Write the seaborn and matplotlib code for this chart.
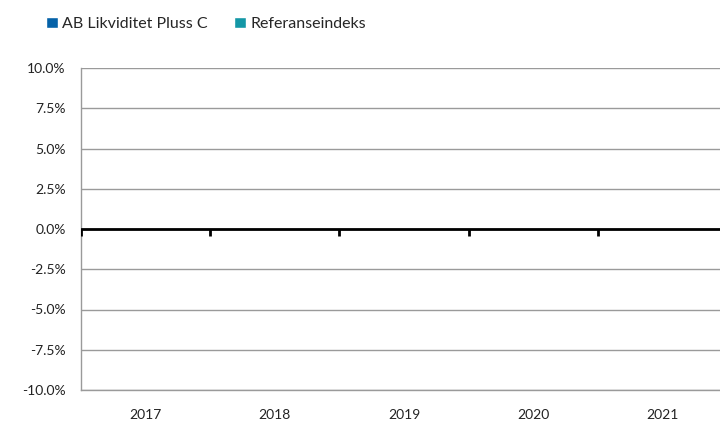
import pandas as pd
import numpy as np
import matplotlib.pyplot as plt
import seaborn as sns
from matplotlib.ticker import FuncFormatter

years = ["2017", "2018", "2019", "2020", "2021"]
fund_returns = [0.0, 0.0, 0.0, 0.0, 0.0]
index_returns = [0.0, 0.0, 0.0, 0.0, 0.0]
series_names = ["AB Likviditet Pluss C", "Referanseindeks"]
y_ticks = [-10.0, -7.5, -5.0, -2.5, 0.0, 2.5, 5.0, 7.5, 10.0]

colors = {"AB Likviditet Pluss C": "#0562A8", "Referanseindeks": "#1497A6"}

df = pd.DataFrame({
    "Year": years * 2,
    "Return": fund_returns + index_returns,
    "Series": [series_names[0]] * len(years) + [series_names[1]] * len(years),
})

sns.set_style("white")
plt.rcParams["font.family"] = ["Lato", "DejaVu Sans"]

fig = plt.figure(figsize=(7.2, 4.22), dpi=100)
ax = fig.add_axes([81 / 720, 1 - 390 / 422, 646 / 720, 322 / 422])

sns.barplot(data=df, x="Year", y="Return", hue="Series", palette=colors,
            order=years, hue_order=series_names, ax=ax, legend=False)

ax.set_xlim(-0.5, len(years) - 0.5)
ax.set_ylim(-10, 10)
ax.set_yticks(y_ticks)
ax.yaxis.set_major_formatter(FuncFormatter(lambda v, p: f"{v:.1f}%"))
ax.grid(axis="y", color="#9a9a9a", linewidth=1)
ax.set_axisbelow(True)

for s in ["top", "right"]:
    ax.spines[s].set_visible(False)
ax.spines["left"].set_color("#9a9a9a")
ax.spines["bottom"].set_color("#9a9a9a")
ax.spines["left"].set_linewidth(1)
ax.spines["bottom"].set_linewidth(1)

ax.tick_params(axis="y", length=7, color="#9a9a9a", pad=4, labelsize=10, labelcolor="#222222")
ax.tick_params(axis="x", length=0, pad=14, labelsize=10, labelcolor="#222222")
ax.set_xlabel("")
ax.set_ylabel("")

# zero line with small ticks at category boundaries
ax.axhline(0, color="black", linewidth=2, zorder=3)
bounds = np.arange(len(years)) - 0.5
ax.vlines(bounds, -0.45, 0, color="black", linewidth=2, zorder=3)

handles = [plt.Rectangle((0, 0), 1, 1, fc=colors[n]) for n in series_names]
fig.legend(handles, series_names, loc="center left", bbox_to_anchor=(0.064, 0.943),
           ncol=2, frameon=False, fontsize=11.5, handlelength=0.72, handleheight=0.72,
           handletextpad=0.3, columnspacing=1.65, borderaxespad=0, borderpad=0)

fig.savefig("out.png", dpi=100)
